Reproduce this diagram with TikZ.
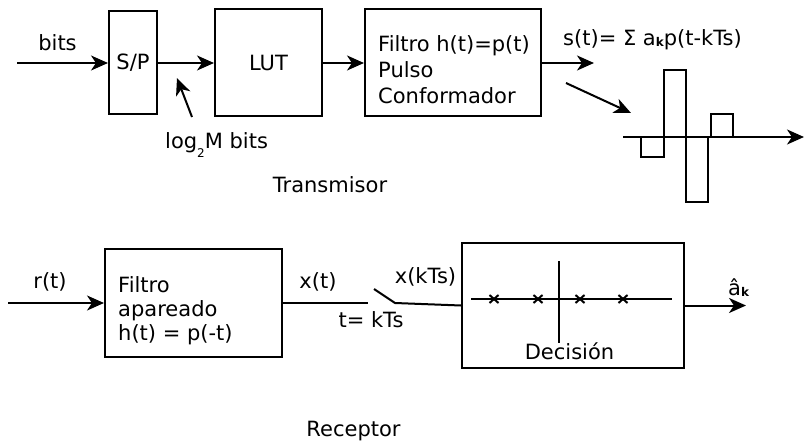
\documentclass[tikz,border=0pt]{standalone}
\usepackage{fontspec}
\setmainfont{DejaVu Sans}
\usetikzlibrary{arrows.meta,positioning,calc}

\newcommand{\smallk}{\raisebox{-1pt}{\fontsize{12}{12}\selectfont\bfseries k}}

\begin{document}
\begin{tikzpicture}[x=1pt,y=-1pt,
  box/.style={draw,line width=2pt,inner sep=0pt},
  txt/.style={inner sep=0pt,font=\fontsize{21}{26}\selectfont},
  arr/.style={-{Stealth[length=17pt,width=15pt,inset=5pt]},line width=2pt},
  wire/.style={line width=2pt}
]
  \useasboundingbox (0,0) rectangle (805,441);
  % Transmisor
  \node[box,txt,minimum width=48,minimum height=103] (sp) at (133,63) {S/P};
  \node[box,txt,minimum width=107,minimum height=107] (lut) at (268.5,63) {LUT};
  \node[box,minimum width=176,minimum height=107] (pulse) at (453,63) {};
  \node[txt,anchor=north west,align=left] (pulsetxt) at (378,35)
    {Filtro h(t)=p(t)\\Pulso\\Conformador};
  \node[txt,anchor=base] (bits) at (57.5,51) {bits};
  \node[txt,anchor=base west] (logm) at (165,148)
    {log\raisebox{-9pt}{\fontsize{12}{12}\selectfont 2}M bits};
  \node[txt,anchor=base west] (st) at (563,46) {s(t)= Σ a\smallk p(t-kTs)};
  \node[txt,anchor=base] (tx) at (330,192) {Transmisor};
  % Arrows
  \coordinate (bitsin) at (17,63);
  \coordinate (logtail) at (192,117);
  \coordinate (loghead) at (177,78);
  \coordinate (dgtail) at (566,83);
  \coordinate (dghead) at (631,113);
  \draw[arr] (bitsin) -- (sp.west);
  \draw[arr] (sp) -- (lut);
  \draw[arr] (lut) -- (pulse);
  \draw[arr] (logtail) -- (loghead);
  \draw[arr] (pulse.east) -- ++(52,0);
  \draw[arr] (dgtail) -- (dghead);
  % Pulses
  \coordinate (axs) at (623,137);
  \coordinate (axe) at (804,137);
  \draw[arr] (axs) -- (axe);
  \draw[wire] (641,137) -- (641,157) -- (664,157) -- (664,70) -- (686,70)
    -- (686,202) -- (708,202) -- (708,137);
  \draw[wire] (711,137) -- (711,114) -- (733,114) -- (733,137);

  % Receptor
  \node[box,minimum width=177,minimum height=108] (mf) at (193.5,303) {};
  \node[txt,anchor=north west,align=left,font=\fontsize{21}{24}\selectfont]
    (mftxt) at (118,276) {Filtro\\apareado\\h(t) = p(-t)};
  \node[box,minimum width=222,minimum height=125] (dec) at (573,305.5) {};
  \node[txt,anchor=base] (rt) at (50,288) {r(t)};
  \node[txt,anchor=base] (xt) at (318,288) {x(t)};
  \node[txt,anchor=base] (tk) at (371,327) {t= kTs};
  \node[txt,anchor=base] (xk) at (425.5,283) {x(kTs)};
  \node[txt,anchor=base] (dectxt) at (569.5,359) {Decisión};
  \node[txt,anchor=base west] (ak) at (728,295) {â\smallk};
  \node[txt,anchor=base] (rx) at (353.5,436) {Receptor};
  % Switch
  \coordinate (rin) at (8,303);
  \coordinate (sw0) at (368,303);
  \coordinate (sw1) at (374,289);
  \coordinate (sw2) at (395,303);
  \draw[arr] (rin) -- (mf.west);
  \draw[wire] (mf.east) -- (sw0);
  \draw[wire] (sw1) -- (sw2) -- (dec.west);
  \draw[arr] (dec.east) -- ++(61,0);
  % Decision axes
  \draw[wire] (471,299) -- (672,299);
  \draw[wire] (559,261) -- (559,343);
  \foreach \x in {494,538,580,623}
    \draw[wire] (\x-4.5,295) -- (\x+4.5,303) (\x-4.5,303) -- (\x+4.5,295);
\end{tikzpicture}
\end{document}
